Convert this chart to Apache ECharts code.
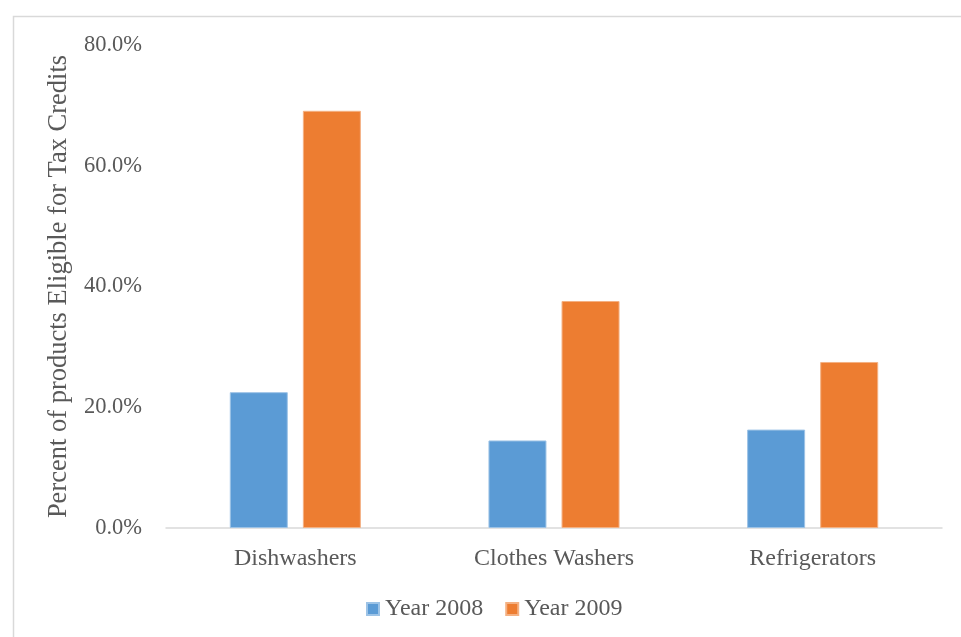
<!DOCTYPE html>
<html>
<head>
<meta charset="utf-8">
<script src="https://cdn.jsdelivr.net/npm/echarts@6/dist/echarts.min.js"></script>
<style>html,body{margin:0;padding:0;background:#fff}#c{width:961px;height:637px}</style>
</head>
<body>
<div id="c"></div>
<script>
var categories = ['Dishwashers', 'Clothes Washers', 'Refrigerators'];
var year2008 = [22.5, 14.5, 16.3];
var year2009 = [69.1, 37.6, 27.5];
var yTicks = [0, 20, 40, 60, 80];
var seriesNames = ['Year 2008', 'Year 2009'];

var font = 'Liberation Serif, Times New Roman, serif';
var chart = echarts.init(document.getElementById('c'));
chart.setOption({
  backgroundColor: '#fff',
  animation: false,
  graphic: [{
    type: 'rect', left: 11, top: 14,
    shape: { width: 980, height: 660 },
    style: { fill: 'none', stroke: '#d9d9d9', lineWidth: 1.5 },
    silent: true
  }],
  grid: { left: 166, right: 19, top: 45, bottom: 109 },
  legend: {
    data: seriesNames,
    bottom: 11,
    left: 361,
    itemWidth: 12, itemHeight: 12, itemGap: 22,
    icon: 'rect',
    textStyle: { fontFamily: font, fontSize: 24, color: '#595959', padding: [0, 0, 0, 1] }
  },
  xAxis: {
    type: 'category',
    data: categories,
    axisLine: { lineStyle: { color: '#d9d9d9', width: 1.5 } },
    axisTick: { show: false },
    axisLabel: { fontFamily: font, fontSize: 24, color: '#595959', margin: 19 }
  },
  yAxis: {
    type: 'value',
    min: yTicks[0], max: yTicks[yTicks.length - 1], interval: 20,
    name: 'Percent of products Eligible for Tax Credits',
    nameLocation: 'middle',
    nameGap: 90,
    nameTextStyle: { fontFamily: font, fontSize: 26.5, color: '#595959' },
    axisLine: { show: false },
    axisTick: { show: false },
    splitLine: { show: false },
    axisLabel: {
      fontFamily: font, fontSize: 22.5, color: '#595959', margin: 24,
      formatter: function (v) { return v.toFixed(1) + '%'; }
    }
  },
  series: [{
    name: seriesNames[0], type: 'bar', data: year2008,
    barWidth: 58, barGap: '26%',
    itemStyle: { color: '#5B9BD5', borderColor: '#9dc3e6', borderWidth: 1 }
  }, {
    name: seriesNames[1], type: 'bar', data: year2009,
    barWidth: 58,
    itemStyle: { color: '#ED7D31', borderColor: '#f4b183', borderWidth: 1 }
  }]
});
</script>
</body>
</html>
